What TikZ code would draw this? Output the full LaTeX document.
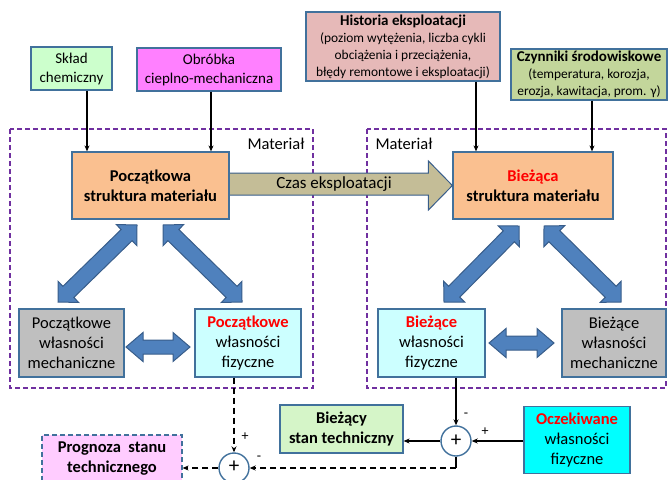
\documentclass[tikz,border=0pt]{standalone}
\usepackage{fontspec}
\setmainfont{Carlito}
\usetikzlibrary{calc,arrows.meta}
\definecolor{bord}{HTML}{41719C}
\definecolor{arrbord}{HTML}{385D8A}
\definecolor{arrfill}{HTML}{4F81BD}
\definecolor{czasfill}{HTML}{C4BD97}
\definecolor{skladfill}{HTML}{CCFFCC}
\definecolor{obrfill}{HTML}{FF80FF}
\definecolor{histfill}{HTML}{E6B9B8}
\definecolor{czynfill}{HTML}{C3D69B}
\definecolor{strfill}{HTML}{FAC090}
\definecolor{grayfill}{HTML}{BFBFBF}
\definecolor{fizfill}{HTML}{CCFFFF}
\definecolor{oczfill}{HTML}{00FFFF}
\definecolor{stanfill}{HTML}{D5F5C8}
\definecolor{progfill}{HTML}{FFCCFF}
\definecolor{matcol}{HTML}{7030A0}
\tikzset{
  box/.style={draw=bord, line width=1.2pt, align=center, inner sep=1pt,
    font=\fontsize{16.5}{20}\selectfont},
  smallbox/.style={box, font=\fontsize{15}{19}\selectfont},
  matbox/.style={draw=matcol, line width=1.4pt, dash pattern=on 5pt off 3pt},
  conn/.style={line width=1.2pt, -{Stealth[length=6pt,width=5pt]}},
  dconn/.style={conn, dash pattern=on 6pt off 4pt},
  sumc/.style={circle, draw=bord, fill=white, line width=1.4pt, minimum size=30pt,
    inner sep=0pt},
  plus/.style={inner sep=0pt, font=\fontsize{21}{21}\selectfont},
  sgn/.style={font=\fontsize{14}{14}\selectfont, inner sep=0pt},
  blockarr/.style={draw=arrbord, fill=arrfill, line width=1pt, line join=miter},
}
\newcommand\dblarr[5]{%
  \draw[blockarr] (#1)
   -- ($(#1)!#3pt!(#2)!#4pt!90:(#2)$)
   -- ($(#1)!#3pt!(#2)!#5pt!90:(#2)$)
   -- ($(#2)!#3pt!(#1)!#5pt!-90:(#1)$)
   -- ($(#2)!#3pt!(#1)!#4pt!-90:(#1)$)
   -- (#2)
   -- ($(#2)!#3pt!(#1)!#4pt!90:(#1)$)
   -- ($(#2)!#3pt!(#1)!#5pt!90:(#1)$)
   -- ($(#1)!#3pt!(#2)!#5pt!-90:(#2)$)
   -- ($(#1)!#3pt!(#2)!#4pt!-90:(#2)$)
   -- cycle;}
\begin{document}
\begin{tikzpicture}[x=1pt,y=-1pt]
\clip (0,0) rectangle (668,479);
\useasboundingbox (0,0) rectangle (668,479);

% material frames
\draw[matbox] (10,129) rectangle (313,388);
\draw[matbox] (367,129) rectangle (666,388);
\node[font=\fontsize{16.5}{20}\selectfont, inner sep=0pt] (mat1) at (276,144) {Materiał};
\node[font=\fontsize{16.5}{20}\selectfont, inner sep=0pt] (mat2) at (404,144) {Materiał};

% top boxes
\node[smallbox, fill=skladfill, minimum width=81pt, minimum height=43pt] (sklad) at (71.5,68.5) {Skład\\chemiczny};
\node[smallbox, fill=obrfill, minimum width=144pt, minimum height=43pt] (obr) at (209,69.5) {Obróbka\\cieplno-mechaniczna};
\node[box, fill=histfill, minimum width=194pt, minimum height=69pt, font=\fontsize{13.4}{17}\selectfont] (hist) at (403,46.5)
  {{\bfseries\fontsize{15}{17}\selectfont Historia eksploatacji}\\(poziom wytężenia, liczba cykli\\obciążenia i przeciążenia,\\błędy remontowe i eksploatacji)};
\node[box, fill=czynfill, minimum width=156pt, minimum height=51pt, font=\fontsize{13.4}{17}\selectfont] (czyn) at (589,74.5)
  {{\bfseries\fontsize{15}{17}\selectfont Czynniki środowiskowe}\\(temperatura, korozja,\\erozja, kawitacja, prom. γ)};

% structure boxes
\node[box, fill=strfill, minimum width=160pt, minimum height=67pt, font=\bfseries\fontsize{16.5}{20}\selectfont] (biez) at (533,185.5) {{\color{red}Bieżąca}\\struktura materiału};
\coordinate (poczE) at (229,184);

% time arrow
\draw[draw=arrbord, fill=czasfill, line width=1pt]
  ($(poczE)+(-3,-11)$) -- ($(biez.west)+(-24,-12.5)$) -- ($(biez.west)+(-24,-24.5)$)
  -- (biez.west) -- ($(biez.west)+(-24,24.5)$) -- ($(biez.west)+(-24,9.5)$)
  -- ($(poczE)+(-3,11)$) -- cycle;
\node[font=\fontsize{17}{20}\selectfont, inner sep=0pt] (czas) at (334,184) {Czas eksploatacji};
\node[box, fill=strfill, minimum width=157pt, minimum height=67pt, font=\bfseries\fontsize{16.5}{20}\selectfont] (pocz) at (150.5,185.5) {Początkowa\\struktura materiału};

% input connectors
\draw[conn] ([xshift=15.5pt]sklad.south) -- ([xshift=15.5pt]sklad.south |- pocz.north);
\draw[conn] ([xshift=2pt]obr.south) -- ([xshift=2pt]obr.south |- pocz.north);
\draw[conn] ([xshift=73pt]hist.south) -- ([xshift=73pt]hist.south |- biez.north);
\draw[conn] ([xshift=3pt]czyn.south) -- ([xshift=3pt]czyn.south |- biez.north);

% property boxes
\node[box, fill=grayfill, minimum width=105pt, minimum height=68pt] (pmech) at (71.5,343) {Początkowe\\własności\\mechaniczne};
\node[box, fill=fizfill, minimum width=106pt, minimum height=68pt] (pfiz) at (248,343) {{\bfseries\color{red}Początkowe}\\własności\\fizyczne};
\node[box, fill=fizfill, minimum width=107pt, minimum height=68pt] (bfiz) at (431.5,343) {{\bfseries\color{red}Bieżące}\\własności\\fizyczne};
\node[box, fill=grayfill, minimum width=104pt, minimum height=68pt] (bmech) at (614,343) {Bieżące\\własności\\mechaniczne};

% block double arrows
\coordinate (a1s) at (137,225); \coordinate (a1e) at (58,302);
\coordinate (a2s) at (163,225); \coordinate (a2e) at (242,302);
\coordinate (a3s) at (519,226); \coordinate (a3e) at (444,302);
\coordinate (a4s) at (544,226); \coordinate (a4e) at (621,302);
\coordinate (h1s) at (126,347); \coordinate (h1e) at (190,347);
\coordinate (h2s) at (489,343); \coordinate (h2e) at (554,343);
\dblarr{a1s}{a1e}{14.5}{14.8}{7.8}
\dblarr{a2s}{a2e}{14.5}{14.8}{7.8}
\dblarr{a3s}{a3e}{14.5}{14.8}{7.8}
\dblarr{a4s}{a4e}{14.5}{14.8}{7.8}
\dblarr{h1s}{h1e}{17}{14.5}{7}
\dblarr{h2s}{h2e}{17}{14.5}{7}

% bottom part
\node[box, fill=stanfill, minimum width=123pt, minimum height=48pt, font=\bfseries\fontsize{16.5}{20}\selectfont] (bstan) at (341.5,429) {Bieżący\\stan techniczny};
\node[box, fill=oczfill, minimum width=106pt, minimum height=67pt] (ocz) at (577,440) {{\bfseries\color{red}Oczekiwane}\\własności\\fizyczne};
\node[box, fill=progfill, dash pattern=on 5pt off 3pt, minimum width=140pt, minimum height=47pt, font=\bfseries\fontsize{16.5}{20}\selectfont] (prog) at (112,458.5) {Prognoza\ \ stanu\\technicznego};
\node[sumc] (sumR) at (456,441) {};
\node[sumc] (sumL) at (234,468) {};
\node[plus] (plusR) at (sumR) {+};
\node[plus] (plusL) at (234,467) {+};
\coordinate (corner) at (sumR.south |- sumL.east);

\draw[conn] ([xshift=24.5pt]bfiz.south) -- (sumR.north);
\draw[conn] (ocz.west |- sumR.east) -- (sumR.east);
\draw[conn] (sumR.west) -- (sumR.west -| bstan.east);
\draw[line width=1.2pt] (sumR.south) -- (corner);
\draw[dconn] (corner) -- (sumL.east);
\draw[dconn] ([xshift=-14pt]pfiz.south) -- (sumL.north);
\draw[dconn] (sumL.west) -- (sumL.west -| prog.east);

\node[sgn] (s1) at (466,415) {-};
\node[sgn] (s2) at (485,432) {+};
\node[sgn] (s3) at (245,437) {+};
\node[sgn] (s4) at (259,458) {-};
\end{tikzpicture}
\end{document}
